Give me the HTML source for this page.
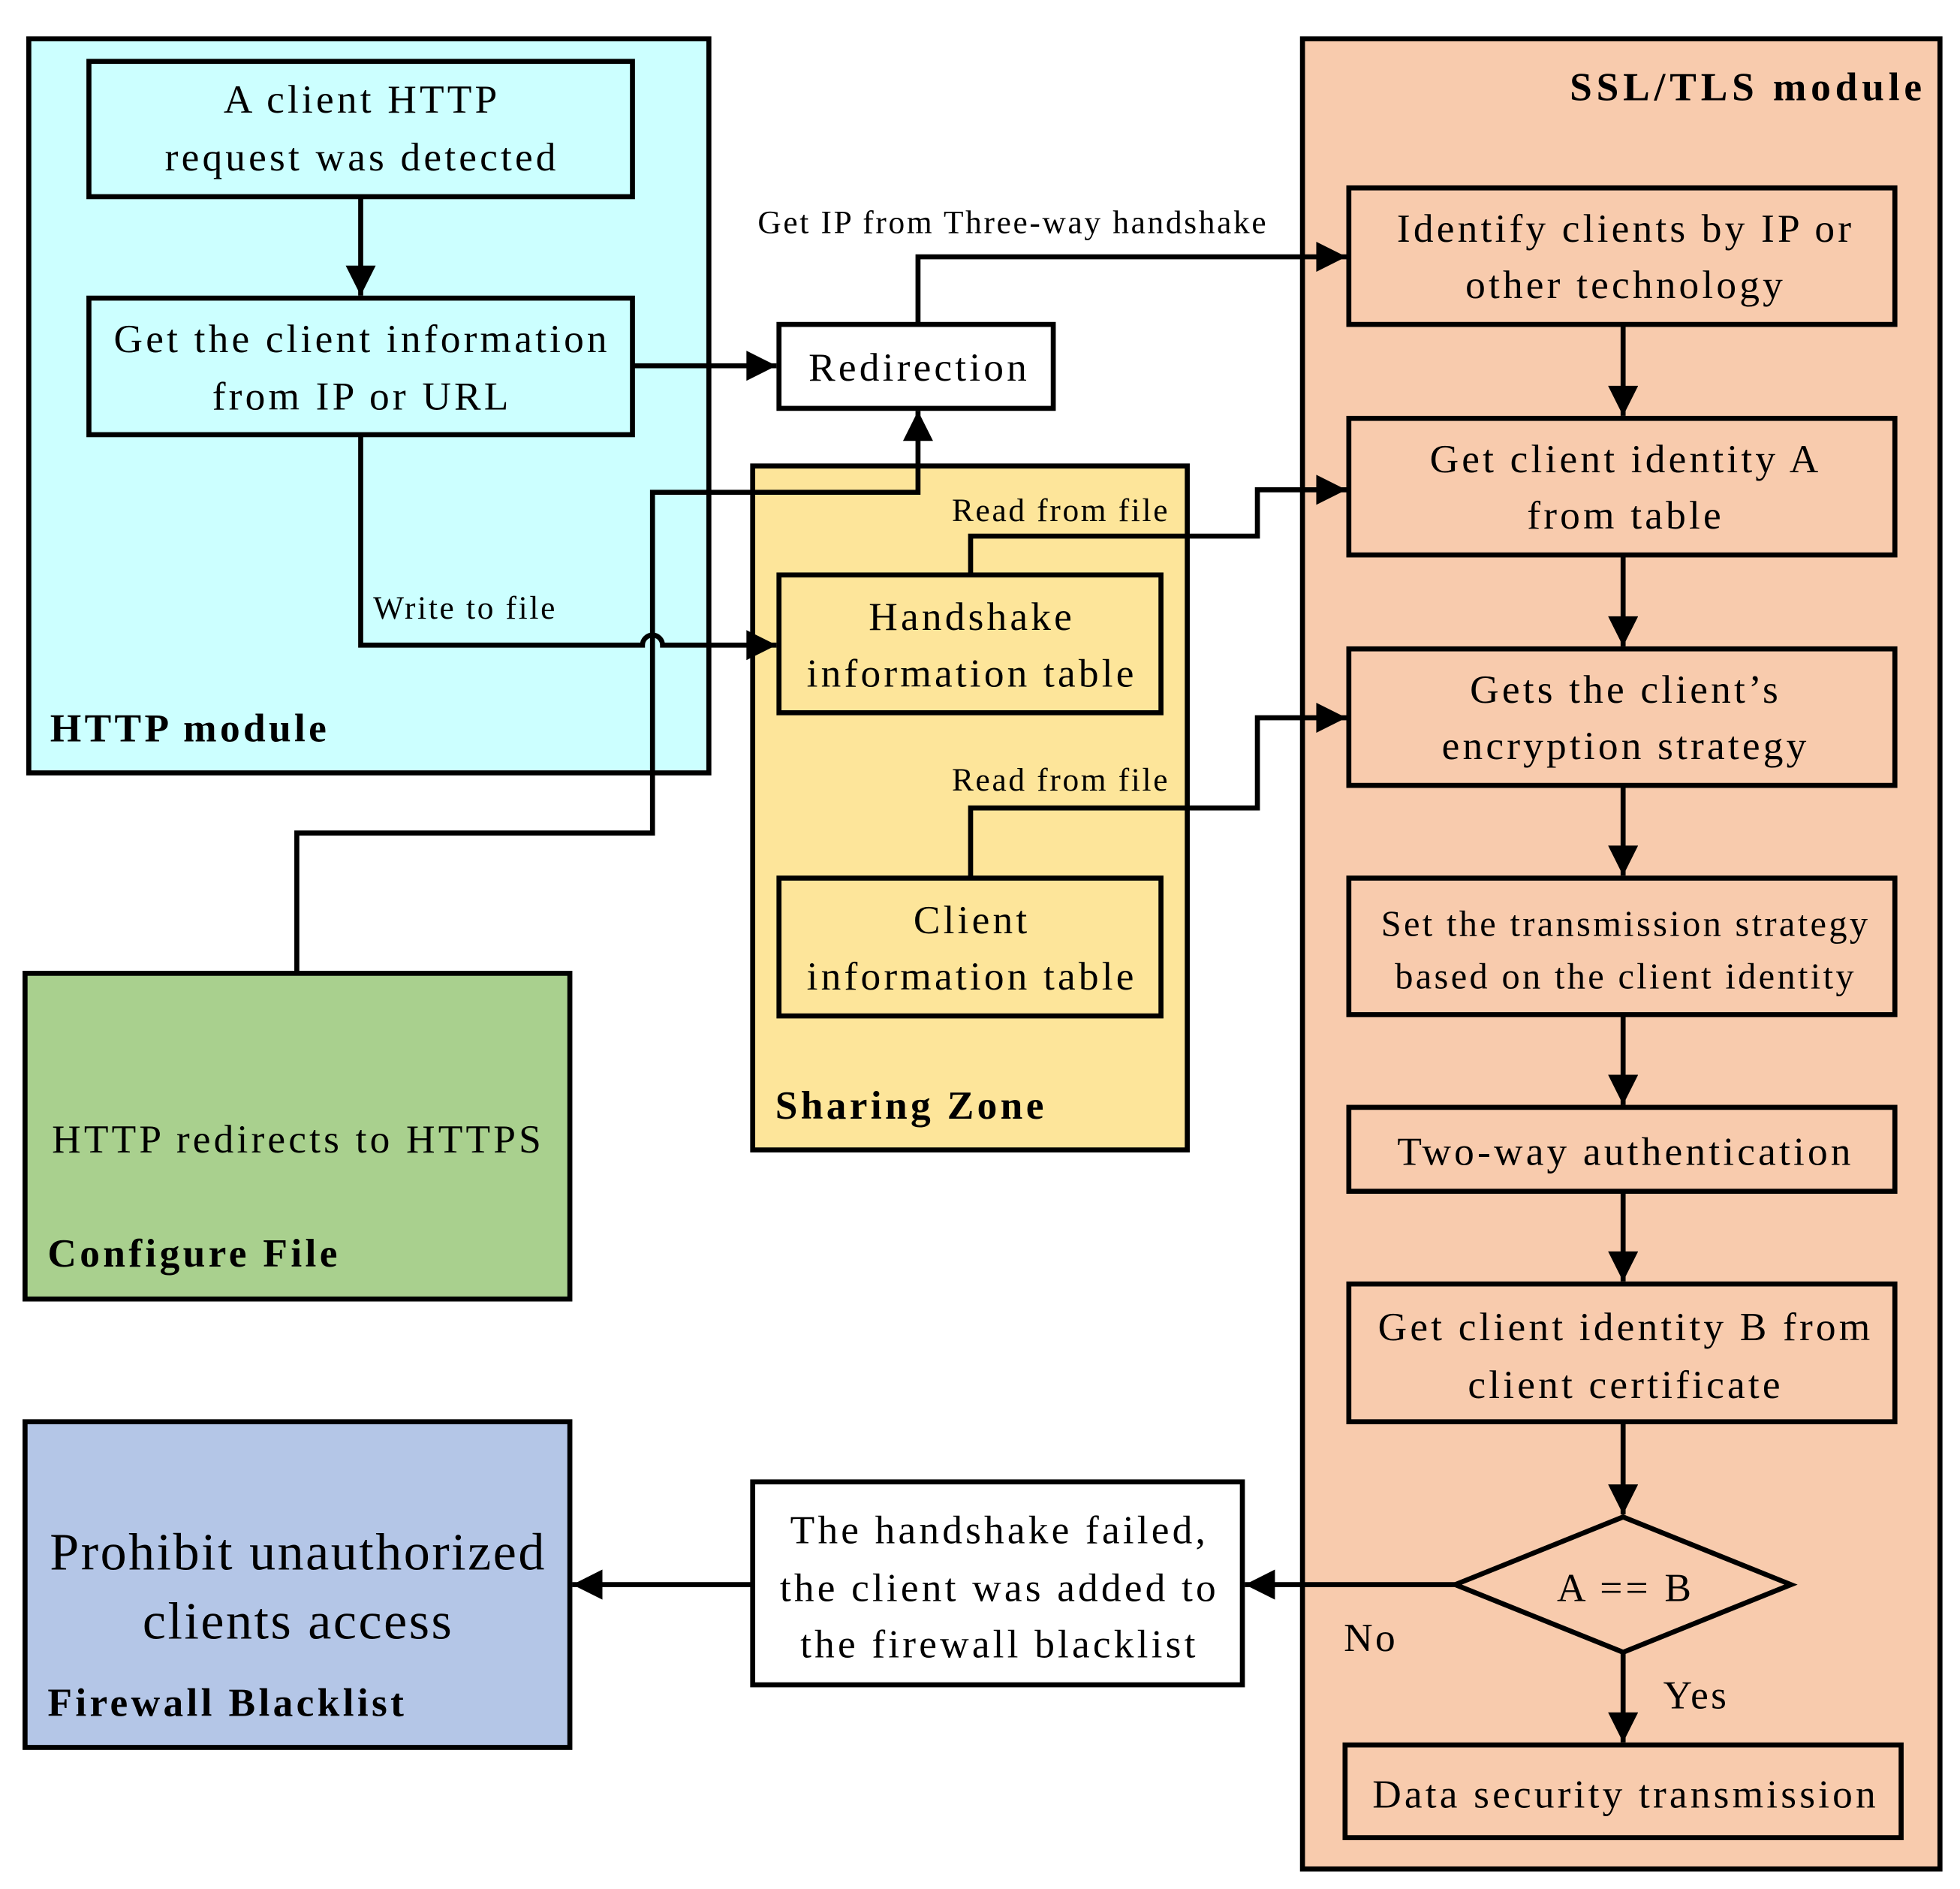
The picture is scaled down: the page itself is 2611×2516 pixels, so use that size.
<!DOCTYPE html>
<html><head><meta charset="utf-8"><style>
html,body{margin:0;padding:0;background:#fff;}
svg{display:block;}
text{font-family:"Liberation Serif",serif;fill:#000;}
.t{font-size:32px;text-anchor:middle;letter-spacing:2.5px;}
.s{font-size:26px;letter-spacing:1.6px;}
.b{font-size:32px;font-weight:bold;letter-spacing:2.6px;}
</style></head><body>
<svg width="2611" height="2516" viewBox="0 0 1565 1508" preserveAspectRatio="none" xmlns="http://www.w3.org/2000/svg">
<defs>
<marker id="a" viewBox="0 0 10 10" refX="10" refY="5" markerWidth="7" markerHeight="6" markerUnits="strokeWidth" orient="auto">
<path d="M0,0 L10,5 L0,10 z" fill="#000"/></marker>
</defs>
<g stroke="#000" stroke-width="4">
<rect x="23" y="31" width="543" height="586" fill="#ccffff"/>
<rect x="601" y="372" width="347" height="546" fill="#fde59a"/>
<rect x="1040" y="31" width="509" height="1461" fill="#f8cbad"/>
<rect x="20" y="777" width="435" height="260" fill="#a9d08e"/>
<rect x="20" y="1135" width="435" height="260" fill="#b4c6e7"/>
<rect x="71" y="49" width="434" height="108" fill="#ccffff"/>
<rect x="71" y="238" width="434" height="109" fill="#ccffff"/>
<rect x="622" y="259" width="219" height="67" fill="#fff"/>
<rect x="622" y="459" width="305" height="110" fill="#fde59a"/>
<rect x="622" y="701" width="305" height="110" fill="#fde59a"/>
<rect x="1077" y="150" width="436" height="109" fill="#f8cbad"/>
<rect x="1077" y="334" width="436" height="109" fill="#f8cbad"/>
<rect x="1077" y="518" width="436" height="109" fill="#f8cbad"/>
<rect x="1077" y="701" width="436" height="109" fill="#f8cbad"/>
<rect x="1077" y="884" width="436" height="67" fill="#f8cbad"/>
<rect x="1077" y="1025" width="436" height="110" fill="#f8cbad"/>
<rect x="1074" y="1393" width="444" height="74" fill="#f8cbad"/>
<path d="M1162,1265 L1296,1211 L1430,1265 L1296,1319 z" fill="#f8cbad"/>
<rect x="601" y="1183" width="391" height="162" fill="#fff"/>
</g>
<g stroke="#000" stroke-width="4" fill="none">
<path d="M288,157 V236" marker-end="url(#a)"/>
<path d="M505,292 H620" marker-end="url(#a)"/>
<path d="M733,259 V205 H1075" marker-end="url(#a)"/>
<path d="M288,347 V515 H513 A8,8 0 0 1 529,515 H620" marker-end="url(#a)"/>
<path d="M775,459 V428 H1004 V391 H1075" marker-end="url(#a)"/>
<path d="M775,701 V645 H1004 V573 H1075" marker-end="url(#a)"/>
<path d="M237,777 V665 H521 V393 H733 V328" marker-end="url(#a)"/>
<path d="M1296,259 V332" marker-end="url(#a)"/>
<path d="M1296,443 V516" marker-end="url(#a)"/>
<path d="M1296,627 V699" marker-end="url(#a)"/>
<path d="M1296,810 V882" marker-end="url(#a)"/>
<path d="M1296,951 V1023" marker-end="url(#a)"/>
<path d="M1296,1135 V1209" marker-end="url(#a)"/>
<path d="M1296,1319 V1391" marker-end="url(#a)"/>
<path d="M1162,1265 H994" marker-end="url(#a)"/>
<path d="M601,1265 H457" marker-end="url(#a)"/>
</g>
<text class="t" x="289" y="90">A client HTTP</text>
<text class="t" x="289" y="136">request was detected</text>
<text class="t" x="289" y="281">Get the client information</text>
<text class="t" x="289" y="327">from IP or URL</text>
<text class="t" x="734" y="304">Redirection</text>
<text class="s" x="605" y="186">Get IP from Three-way handshake</text>
<text class="b" x="40" y="592">HTTP module</text>
<text class="s" x="298" y="494">Write to file</text>
<text class="s" x="760" y="416">Read from file</text>
<text class="s" x="760" y="631">Read from file</text>
<text class="t" x="776" y="503">Handshake</text>
<text class="t" x="776" y="548">information table</text>
<text class="t" x="776" y="745">Client</text>
<text class="t" x="776" y="790">information table</text>
<text class="b" x="619" y="893">Sharing Zone</text>
<text class="t" x="238" y="920">HTTP redirects to HTTPS</text>
<text class="b" x="38" y="1011">Configure File</text>
<text class="b" x="1538" y="80" text-anchor="end" style="letter-spacing:3.5px">SSL/TLS module</text>
<text class="t" x="1298" y="193">Identify clients by IP or</text>
<text class="t" x="1298" y="238">other technology</text>
<text class="t" x="1298" y="377">Get client identity A</text>
<text class="t" x="1298" y="422">from table</text>
<text class="t" x="1298" y="561">Gets the client’s</text>
<text class="t" x="1298" y="606">encryption strategy</text>
<text class="t" x="1298" y="747" style="font-size:29px;letter-spacing:2px">Set the transmission strategy</text>
<text class="t" x="1298" y="789" style="font-size:29px;letter-spacing:2px">based on the client identity</text>
<text class="t" x="1298" y="930">Two-way authentication</text>
<text class="t" x="1298" y="1070">Get client identity B from</text>
<text class="t" x="1298" y="1116">client certificate</text>
<text class="t" x="1298" y="1278">A == B</text>
<text class="t" x="1298" y="1443">Data security transmission</text>
<text x="1328" y="1364" style="font-size:32px;letter-spacing:2px">Yes</text>
<text x="1073" y="1318" style="font-size:32px;letter-spacing:2px">No</text>
<text class="t" x="798" y="1232">The handshake failed,</text>
<text class="t" x="798" y="1278">the client was added to</text>
<text class="t" x="798" y="1323">the firewall blacklist</text>
<text class="t" x="238" y="1253" style="font-size:42px;letter-spacing:1.5px">Prohibit unauthorized</text>
<text class="t" x="238" y="1308" style="font-size:42px;letter-spacing:1.5px">clients access</text>
<text class="b" x="38" y="1370">Firewall Blacklist</text>
</svg>
</body></html>
